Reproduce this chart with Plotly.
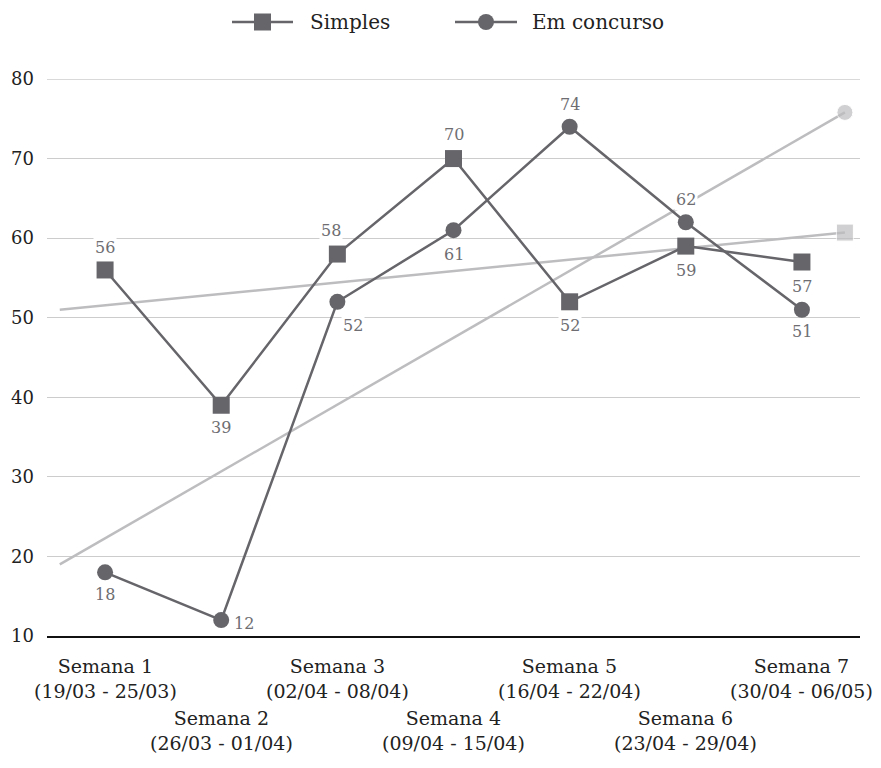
import plotly.graph_objects as go

# Weekly values
weeks = [1, 2, 3, 4, 5, 6, 7]
week_names = ["Semana 1", "Semana 2", "Semana 3", "Semana 4", "Semana 5", "Semana 6", "Semana 7"]
week_ranges = ["(19/03 - 25/03)", "(26/03 - 01/04)", "(02/04 - 08/04)", "(09/04 - 15/04)",
               "(16/04 - 22/04)", "(23/04 - 29/04)", "(30/04 - 06/05)"]
series_names = ["Simples", "Em concurso"]
simples = [56, 39, 58, 70, 52, 59, 57]
em_concurso = [18, 12, 52, 61, 74, 62, 51]

# Trend lines (start / end)
trend_x = [0.61, 7.37]
trend_simples = [51, 60.7]
trend_concurso = [19, 75.8]

y_ticks = [10, 20, 30, 40, 50, 60, 70, 80]

FONT = "DejaVu Serif"
DARK = "#65656a"
LIGHT = "#bdbdc0"
LABEL = "#6e6e72"
TEXT = "#222222"

# Plot-area geometry in pixels
W, H = 881, 768
ML, MR, MT, MB = 47, 21, 79, 132
PW, PH = W - ML - MR, H - MT - MB


def px_x(p):
    return (p - ML) / PW


def px_y(p):
    return (H - MB - p) / PH


fig = go.Figure()

fig.add_trace(go.Scatter(
    x=trend_x, y=trend_simples, mode="lines+markers", showlegend=False,
    line=dict(color=LIGHT, width=2.5),
    marker=dict(symbol="square", size=[0, 17], color=LIGHT),
    hoverinfo="skip"))
fig.add_trace(go.Scatter(
    x=trend_x, y=trend_concurso, mode="lines+markers", showlegend=False,
    line=dict(color=LIGHT, width=2.5),
    marker=dict(symbol="circle", size=[0, 16], color=LIGHT),
    hoverinfo="skip"))

fig.add_trace(go.Scatter(
    x=weeks, y=simples, mode="lines+markers", name=series_names[0], showlegend=False,
    line=dict(color=DARK, width=2.5),
    marker=dict(symbol="square", size=17, color=DARK)))
fig.add_trace(go.Scatter(
    x=weeks, y=em_concurso, mode="lines+markers", name=series_names[1], showlegend=False,
    line=dict(color=DARK, width=2.5),
    marker=dict(symbol="circle", size=16, color=DARK)))

# Data label placement (pixel offsets from each point)
simples_offsets = [(0, 22), (0, -22), (-6, 24), (0, 24), (0, -24), (0, -24), (0, -24)]
concurso_offsets = [(0, -22), (23, -3), (16, -24), (0, -24), (0, 22), (0, 23), (0, -22)]

annotations = []
for xs, ys, offs in ((weeks, simples, simples_offsets), (weeks, em_concurso, concurso_offsets)):
    for xv, yv, (dx, dy) in zip(xs, ys, offs):
        annotations.append(dict(
            x=xv, y=yv, xref="x", yref="y", text=str(yv), showarrow=False,
            xshift=dx, yshift=dy, bgcolor="white", borderpad=1,
            font=dict(family=FONT, size=16, color=LABEL)))

# Two-level category labels
for i, (w, name, rng) in enumerate(zip(weeks, week_names, week_ranges)):
    shift = -17 if i % 2 == 0 else -69
    annotations.append(dict(
        x=w, y=0, xref="x", yref="paper", yanchor="top", showarrow=False,
        yshift=shift, text=f"{name}<br>{rng}", align="center",
        font=dict(family=FONT, size=19, color=TEXT)))

# Legend drawn at the top: line + marker symbol, then the series name
shapes = []
legend_items = [
    (series_names[0], "square", 232, 293, 308),
    (series_names[1], "circle", 455, 517, 530),
]
ly = px_y(22)
for name, sym, x0, x1, tx in legend_items:
    shapes.append(dict(type="line", xref="paper", yref="paper",
                       x0=px_x(x0), x1=px_x(x1), y0=ly, y1=ly,
                       line=dict(color=DARK, width=2.5)))
    cx = (x0 + x1) / 2
    half = 8.5 if sym == "square" else 8
    shapes.append(dict(type="rect" if sym == "square" else "circle",
                       xref="paper", yref="paper",
                       x0=px_x(cx - half), x1=px_x(cx + half),
                       y0=px_y(22 + half), y1=px_y(22 - half),
                       fillcolor=DARK, line=dict(width=0)))
    annotations.append(dict(x=px_x(tx), y=ly, xref="paper", yref="paper",
                            xanchor="left", yanchor="middle", showarrow=False,
                            text=name, font=dict(family=FONT, size=20, color=TEXT)))

# Top gridline is a touch darker
shapes.append(dict(type="line", xref="paper", yref="y", x0=0, x1=1, y0=80, y1=80,
                   line=dict(color="#b3b3b3", width=1.2), layer="below"))

fig.update_layout(
    width=W, height=H,
    margin=dict(l=ML, r=MR, t=MT, b=MB),
    paper_bgcolor="white", plot_bgcolor="white",
    font=dict(family=FONT, size=17, color=TEXT),
    showlegend=False,
    xaxis=dict(range=[0.5, 7.5], showgrid=False, showticklabels=False, ticks="",
               showline=True, linecolor="#111111", linewidth=2, zeroline=False),
    yaxis=dict(range=[10, 80], tickvals=y_ticks, showgrid=True, gridcolor="#cccccc",
               gridwidth=1, zeroline=False, showline=False, ticks="", ticklabelstandoff=12,
               tickfont=dict(family=FONT, size=18, color=TEXT)),
    annotations=annotations,
    shapes=shapes,
)

fig.write_html("out.html")
